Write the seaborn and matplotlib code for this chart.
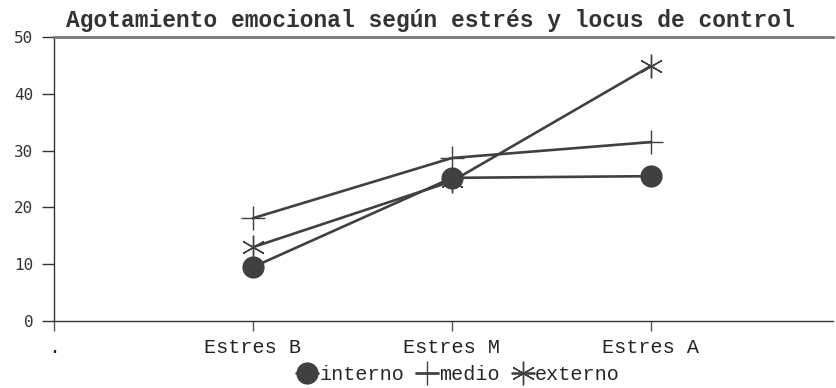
import matplotlib
matplotlib.use("Agg")
import matplotlib.pyplot as plt
from matplotlib.lines import Line2D
import seaborn as sns
import pandas as pd

# Category axis: a placeholder "." slot followed by the three stress levels
categorias = [".", "Estres B", "Estres M", "Estres A"]
niveles = ["Estres B", "Estres M", "Estres A"]

# Mean emotional exhaustion per locus of control group
interno = [9.5, 25.2, 25.5]
medio = [18.1, 28.7, 31.5]
externo = [13.0, 24.6, 44.9]

series = {"interno": interno, "medio": medio, "externo": externo}

filas = []
for grupo, valores in series.items():
    for nivel, v in zip(niveles, valores):
        filas.append({"locus": grupo, "pos": categorias.index(nivel), "valor": v})
df = pd.DataFrame(filas)

sns.set_theme(style="white")
plt.rcParams["font.family"] = ["Liberation Mono", "DejaVu Sans Mono"]

gris = "#404040"
estilos = {
    "interno": dict(marker="o", markersize=16, markeredgewidth=0),
    "medio": dict(marker="+", markersize=17, markeredgewidth=1.0),
    "externo": dict(marker=(6, 2, 0), markersize=17, markeredgewidth=1.0),
}

fig = plt.figure(figsize=(8.37, 3.88), dpi=100)
ax = fig.add_axes([54 / 837, 1 - 321 / 388, (833 - 54) / 837, (321 - 37) / 388])

for grupo in ["medio", "externo", "interno"]:
    sub = df[df["locus"] == grupo]
    sns.lineplot(data=sub, x="pos", y="valor", ax=ax, color=gris, linewidth=1.9,
                 markeredgecolor=gris, markerfacecolor=gris, legend=False,
                 **estilos[grupo])

ax.set_xlim(0, 3.915)
ax.set_ylim(0, 50)
ax.set_xticks(range(len(categorias)))
ax.set_xticklabels(categorias, fontsize=14.5, color="#222222")
ax.set_yticks([0, 10, 20, 30, 40, 50])
ax.set_yticklabels(["0", "10", "20", "30", "40", "50"], fontsize=11.5,
                   color="#333333", family=["DejaVu Sans Mono"])
ax.set_xlabel("")
ax.set_ylabel("")

ax.spines["right"].set_visible(False)
ax.spines["left"].set_color("#333333")
ax.spines["left"].set_linewidth(1.0)
ax.spines["bottom"].set_color("#333333")
ax.spines["bottom"].set_linewidth(1.0)
ax.spines["top"].set_color("#777777")
ax.spines["top"].set_linewidth(2.0)

ax.tick_params(axis="y", direction="out", length=9, width=1, color="#333333", pad=6, left=True)
ax.tick_params(axis="x", direction="out", length=7, width=1, color="#555555", pad=5, bottom=True)

fig.text(430 / 837, 1 - 21 / 388, "Agotamiento emocional según estrés y locus de control",
         fontsize=16.5, fontweight="bold", color="#333333", ha="center", va="center")

manejadores = [
    Line2D([], [], color=gris, linewidth=1.9, markeredgecolor=gris,
           markerfacecolor=gris, **estilos[g]) for g in ["interno", "medio", "externo"]
]
fig.legend(manejadores, ["interno", "medio", "externo"], loc="center",
           bbox_to_anchor=(458 / 837, 1 - 375 / 388), ncol=3, frameon=False, fontsize=14.5,
           handlelength=1.1, handletextpad=0.05, columnspacing=0.6, borderaxespad=0,
           borderpad=0)

fig.savefig("out.png", dpi=100)
